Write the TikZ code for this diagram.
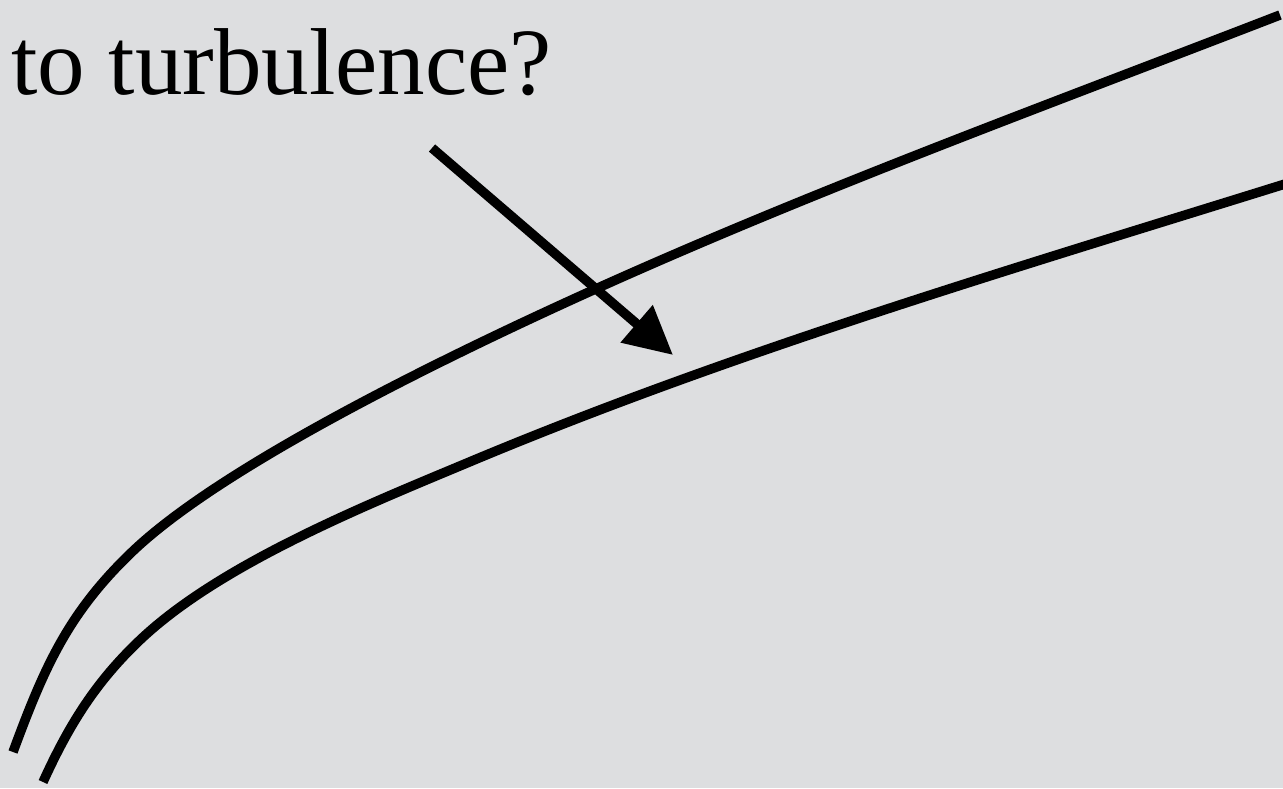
\documentclass[tikz,border=0pt]{standalone}
\usepackage{fontspec}
\setmainfont{Liberation Serif}
\usetikzlibrary{arrows.meta}
\definecolor{bg}{RGB}{221,222,224}
\tikzset{
  flowline/.style={line width=9.5pt, black},
  pointer/.style={line width=9.5pt, black, -{Triangle[length=48pt,width=47pt]}},
  label/.style={font=\fontsize{95}{100}\selectfont, inner sep=0pt, anchor=base west}
}
\begin{document}
\begin{tikzpicture}[x=1pt,y=-1pt]
\fill[bg] (0,0) rectangle (1283,788);
\useasboundingbox (0,0) rectangle (1283,788);
\node[label] (txt) at (11,94) {to turbulence?};
% upper wall
\coordinate (u0) at (13,752);
\coordinate (u1) at (133,551);
\coordinate (u2) at (600,287);
\coordinate (u3) at (1280,15);
\draw[flowline] (u0) .. controls (44.2,667.6) and (67.8,613) .. (u1)
  .. controls (227.3,461.4) and (463.2,348.5) .. (u2)
  .. controls (822.5,187) and (1052.3,103.1) .. (u3);
% lower wall
\coordinate (l0) at (43,782);
\coordinate (l1) at (140,640);
\coordinate (l2) at (467,463);
\coordinate (l3) at (1285,184);
\draw[flowline] (l0) .. controls (68.7,725.6) and (95,682.7) .. (l1)
  .. controls (219.8,564.2) and (365.6,505.4) .. (l2)
  .. controls (731.6,351.9) and (1008.9,270) .. (l3);
\coordinate (start) at (432,148);
\coordinate (tip) at (673,355);
\draw[pointer] (start) -- (tip);
\end{tikzpicture}
\end{document}
